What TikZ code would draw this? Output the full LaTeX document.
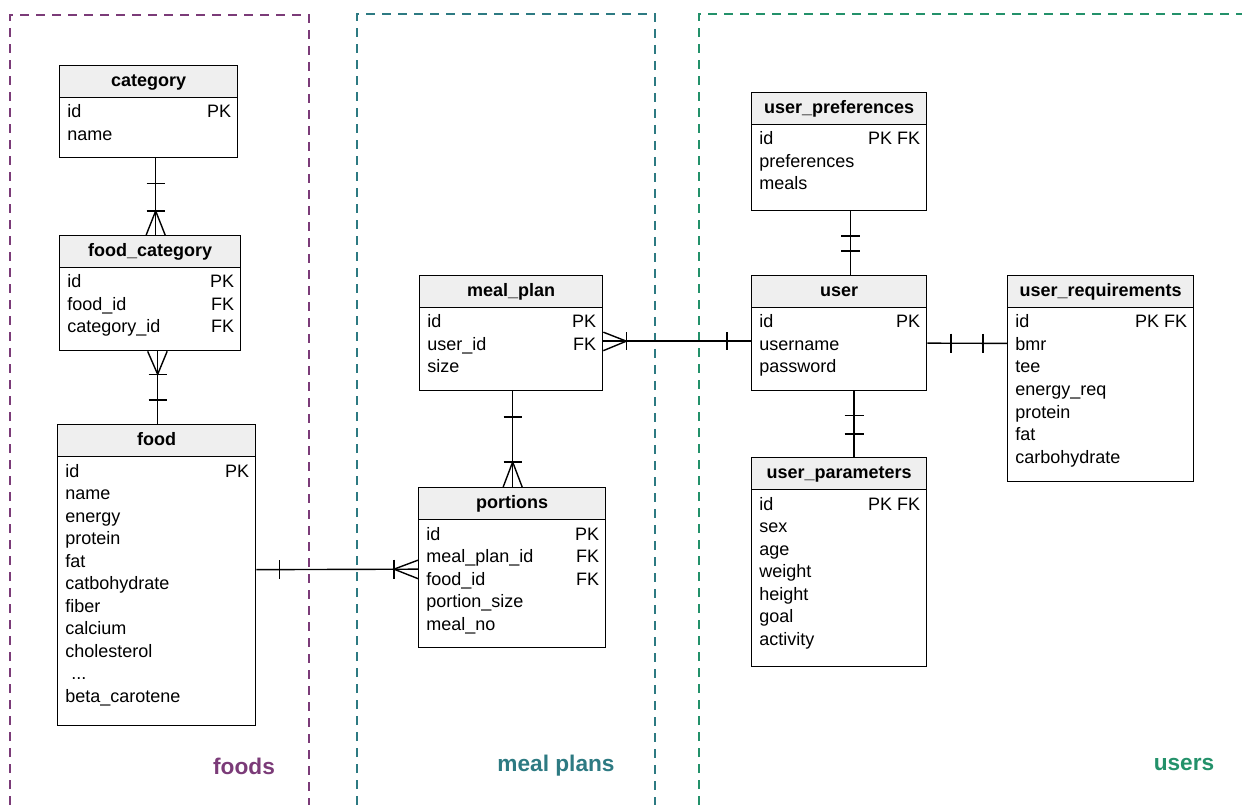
\documentclass[tikz,border=0pt]{standalone}
\usepackage{fontspec}
\setmainfont{Liberation Sans}
\usetikzlibrary{calc}
\definecolor{cfood}{HTML}{7B3B78}
\definecolor{cmeal}{HTML}{2D7A82}
\definecolor{cuser}{HTML}{23916A}
\definecolor{hdrfill}{HTML}{EFEFEF}
\tikzset{
  tbl/.style={draw, line width=1pt, inner sep=0pt, fill=white},
  hdr/.style={draw, line width=1pt, fill=hdrfill, inner sep=0pt, font=\fontsize{13.5}{16}\selectfont\bfseries, text height=10pt, text depth=3pt},
  fld/.style={inner sep=0pt, anchor=base west},
  keyf/.style={inner sep=0pt, anchor=base east},
  conn/.style={line width=1.05pt},
  grp/.style={line width=0.9pt, dash pattern=on 6.5pt off 5.5pt},
  glabel/.style={font=\fontsize{17}{20}\selectfont\bfseries, inner sep=0pt},
}
\newcommand\ertbl[6]{%
  \node[tbl, anchor=north west, minimum width={(#4-#2)*0.75pt}, minimum height={(#5-#3)*0.75pt}] (#1) at (#2,#3) {};
  \node[hdr, anchor=north west, minimum width={(#4-#2)*0.75pt}, minimum height=24pt] (#1-h) at (#2,#3) {#6};
}
\newcommand\errows[2]{%
  \foreach \t/\k [count=\i] in {#2} {
    \node[fld] (#1-r\i) at ($(#1.north west)+(8,53+22.5*\i-22.5)$) {\t};
    \node[keyf] (#1-k\i) at ($(#1.north east)+(-7,53+22.5*\i-22.5)$) {\k};
  }}
\begin{document}
\begin{tikzpicture}[x=0.75pt, y=-0.75pt, font=\fontsize{13.5}{16}\selectfont]
\useasboundingbox (0,0) rectangle (1242,805);
% groups
\draw[grp, cfood] (10,805) |- (309,15) -- (309,805);
\draw[grp, cmeal] (357,805) |- (655,14) -- (655,805);
\draw[grp, cuser] (699,805) |- (1242,14);
\node[glabel, text=cfood] (lfoods) at (244,766) {foods};
\node[glabel, text=cmeal] (lmeal) at (556,766) {meal plans};
\node[glabel, text=cuser] (lusers) at (1184,765) {users};
% tables
\ertbl{category}{59}{65}{237}{157}{category}
\errows{category}{id/PK, name/{}}
\ertbl{foodcat}{59}{235}{240}{350}{food\_category}
\errows{foodcat}{id/PK, food\_id/FK, category\_id/FK}
\ertbl{food}{57}{424}{255}{725}{food}
\errows{food}{id/PK, name/{}, energy/{}, protein/{}, fat/{}, catbohydrate/{}, fiber/{}, calcium/{}, cholesterol/{}, {\hspace{4.5pt}...}/{}, beta\_carotene/{}}
\ertbl{mealplan}{419}{275}{602}{390}{meal\_plan}
\errows{mealplan}{id/PK, user\_id/FK, size/{}}
\ertbl{portions}{418}{487}{605}{647}{portions}
\errows{portions}{id/PK, meal\_plan\_id/FK, food\_id/FK, portion\_size/{}, meal\_no/{}}
\ertbl{userpref}{751}{92}{926}{210}{user\_preferences}
\errows{userpref}{id/PK FK, preferences/{}, meals/{}}
\ertbl{user}{751}{275}{926}{390}{user}
\errows{user}{id/PK, username/{}, password/{}}
\ertbl{userreq}{1007}{275}{1193}{481}{user\_requirements}
\errows{userreq}{id/PK FK, bmr/{}, tee/{}, energy\_req/{}, protein/{}, fat/{}, carbohydrate/{}}
\ertbl{userpar}{751}{457}{926}{666}{user\_parameters}
\errows{userpar}{id/PK FK, sex/{}, age/{}, weight/{}, height/{}, goal/{}, activity/{}}
% connector: category -- food_category
\draw[conn] ($(category.south)+(7,0)$) coordinate (c1a) -- ($(foodcat.north)+(5.5,0)$) coordinate (c1b);
\draw[conn] ($(c1a)+(-9,25)$) -- ++(18,0);
\draw[conn] ($(c1b)+(-9,-24)$) -- ++(18,0);
\draw[conn] ($(c1b)+(-9.5,0)$) -- ($(c1b)+(0,-24)$) -- ($(c1b)+(9.5,0)$);
% connector: food_category -- food
\draw[conn] ($(foodcat.south)+(7.5,0)$) coordinate (c2a) -- ($(food.north)+(1,0)$) coordinate (c2b);
\draw[conn] ($(c2a)+(-10,0)$) -- ($(c2a)+(0,23)$) -- ($(c2a)+(9.5,0)$);
\draw[conn] ($(c2a)+(-9,23)$) -- ++(18,0);
\draw[conn] ($(c2b)+(-9,-24)$) -- ++(18,0);
% connector: food -- portions
\draw[conn] ($(food.east)+(0,-5.5)$) coordinate (c3a) -- ($(portions.west)+(0,1.5)$) coordinate (c3b);
\draw[conn] ($(c3a)+(23,-9.5)$) -- ++(0,19);
\draw[conn] ($(c3b)+(-24,-9.5)$) -- ++(0,19);
\draw[conn] ($(c3b)+(0,-9)$) -- ($(c3b)+(-24,0)$) -- ($(c3b)+(0,9.5)$);
% connector: meal_plan -- user
\draw[conn] ($(mealplan.east)+(0,8)$) coordinate (c4a) -- ($(user.west)+(0,8)$) coordinate (c4b);
\draw[conn] ($(c4a)+(0,-9)$) -- ($(c4a)+(23,0)$) -- ($(c4a)+(0,9.5)$);
\draw[conn] ($(c4a)+(23,-9)$) -- ++(0,18);
\draw[conn] ($(c4b)+(-24,-9)$) -- ++(0,18);
% connector: meal_plan -- portions
\draw[conn] ($(mealplan.south)+(1.5,0)$) coordinate (c5a) -- ($(portions.north)+(0.5,0)$) coordinate (c5b);
\draw[conn] ($(c5a)+(-9,25.5)$) -- ++(18,0);
\draw[conn] ($(c5b)+(-9,-25)$) -- ++(18,0);
\draw[conn] ($(c5b)+(-9.5,0)$) -- ($(c5b)+(0,-25)$) -- ($(c5b)+(9.5,0)$);
% connector: user_preferences -- user
\draw[conn] ($(userpref.south)+(11.5,0)$) coordinate (c6a) -- ($(user.north)+(11.5,0)$) coordinate (c6b);
\draw[conn] ($(c6a)+(-9.5,24.5)$) -- ++(19,0);
\draw[conn] ($(c6b)+(-9.5,-24)$) -- ++(19,0);
% connector: user -- user_requirements
\draw[conn] ($(user.east)+(0,10)$) coordinate (c7a) -- ($(userreq.west)+(0,-35.3)$) coordinate (c7b);
\draw[conn] ($(c7a)+(23.5,-9.5)$) -- ++(0,19);
\draw[conn] ($(c7b)+(-24,-9.5)$) -- ++(0,19);
% connector: user -- user_parameters
\draw[conn] ($(user.south)+(15,0)$) coordinate (c8a) -- ($(userpar.north)+(15,0)$) coordinate (c8b);
\draw[conn] ($(c8a)+(-9.5,24)$) -- ++(19,0);
\draw[conn] ($(c8b)+(-9.5,-23)$) -- ++(19,0);
\end{tikzpicture}
\end{document}
